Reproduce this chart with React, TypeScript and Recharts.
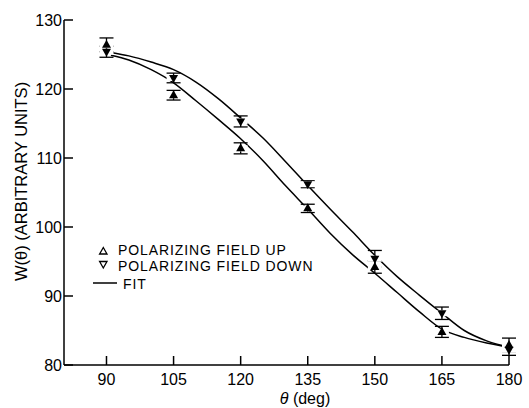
import React from 'react';
import { ComposedChart, Line, Scatter, XAxis, YAxis, ErrorBar } from 'recharts';

const angles = [90, 105, 120, 135, 150, 165, 180];
const upValues = [126.4, 119.1, 111.4, 102.7, 94.2, 84.8, 82.9];
const upErrors = [1.0, 0.7, 0.8, 0.6, 0.9, 0.8, 1.0];
const downValues = [125.4, 121.6, 115.3, 106.2, 95.4, 87.5, 82.2];
const downErrors = [0.8, 0.7, 0.8, 0.5, 1.2, 0.9, 0.8];

const fitAngles = [91, 95, 100, 105, 110, 115, 120, 125, 130, 135, 140, 145, 150, 155, 160, 165, 170, 175, 180];
const fitUpValues = [124.9, 124.2, 122.8, 120.9, 118.3, 115.6, 112.8, 109.6, 106.0, 102.6, 99.1, 96.0, 93.3, 90.5, 87.7, 85.2, 84.0, 83.2, 82.6];
const fitDownValues = [125.3, 124.8, 123.9, 122.8, 121.0, 118.6, 115.8, 112.9, 109.5, 106.0, 102.6, 99.3, 95.9, 92.8, 90.1, 87.5, 85.0, 83.5, 82.6];

const xTicks = [90, 105, 120, 135, 150, 165, 180];
const yTicks = [80, 90, 100, 110, 120, 130];

const legendLabels = ['POLARIZING FIELD UP', 'POLARIZING FIELD DOWN', 'FIT'];
const yLabel = 'W(θ) (ARBITRARY UNITS)';

const upData = angles.map((x, i) => ({ x, y: upValues[i], err: upErrors[i] }));
const downData = angles.map((x, i) => ({ x, y: downValues[i], err: downErrors[i] }));
const fitUpData = fitAngles.map((x, i) => ({ x, y: fitUpValues[i] }));
const fitDownData = fitAngles.map((x, i) => ({ x, y: fitDownValues[i] }));

const FONT = '"Liberation Sans", Arial, sans-serif';

const UpTri = (props: any) => {
  const { cx, cy } = props;
  return <path d={`M${cx},${cy - 5} L${cx + 4.5},${cy + 3} L${cx - 4.5},${cy + 3} Z`} fill="#000" />;
};
const DownTri = (props: any) => {
  const { cx, cy } = props;
  return <path d={`M${cx},${cy + 5} L${cx + 4.5},${cy - 3} L${cx - 4.5},${cy - 3} Z`} fill="#000" />;
};
const Halo = (props: any) => {
  const { cx, cy } = props;
  return <rect x={cx - 7} y={cy - 3} width={14} height={6} fill="#fff" />;
};

export default function App() {
  return (
    <div style={{ position: 'absolute', left: 0, top: 0, width: 529, height: 408, background: '#fff' }}>
      <ComposedChart width={529} height={408} margin={{ top: 20, right: 20, bottom: 0, left: 0 }}>
        <XAxis
          type="number"
          dataKey="x"
          domain={[80.5, 180]}
          ticks={xTicks}
          interval={0}
          height={43}
          tickSize={-9}
          tickMargin={18}
          axisLine={{ stroke: '#000', strokeWidth: 1.5 }}
          tickLine={{ stroke: '#000', strokeWidth: 1.5 }}
          tick={{ fill: '#000', fontSize: 16, fontFamily: FONT }}
        />
        <YAxis
          type="number"
          dataKey="y"
          domain={[80, 130]}
          ticks={yTicks}
          interval={0}
          width={64}
          tickSize={-9}
          tickMargin={11}
          axisLine={{ stroke: '#000', strokeWidth: 1.5 }}
          tickLine={{ stroke: '#000', strokeWidth: 1.5 }}
          tick={{ fill: '#000', fontSize: 16, fontFamily: FONT }}
        />
        <Line data={fitUpData} dataKey="y" type="monotone" stroke="#000" strokeWidth={1.5} dot={false} isAnimationActive={false} />
        <Line data={fitDownData} dataKey="y" type="monotone" stroke="#000" strokeWidth={1.5} dot={false} isAnimationActive={false} />
        <Scatter data={upData} dataKey="y" shape={Halo} isAnimationActive={false} />
        <Scatter data={downData} dataKey="y" shape={Halo} isAnimationActive={false} />
        <Scatter data={upData} dataKey="y" shape={UpTri} isAnimationActive={false}>
          <ErrorBar dataKey="err" direction="y" width={7} stroke="#000" strokeWidth={1.3} />
        </Scatter>
        <Scatter data={downData} dataKey="y" shape={DownTri} isAnimationActive={false}>
          <ErrorBar dataKey="err" direction="y" width={7} stroke="#000" strokeWidth={1.3} />
        </Scatter>
      </ComposedChart>
      <svg width={529} height={408} style={{ position: 'absolute', left: 0, top: 0, pointerEvents: 'none' }}>
        <text
          x={21}
          y={181.5}
          transform="rotate(-90 21 181.5)"
          textAnchor="middle"
          dominantBaseline="central"
          fontSize={16.5}
          fontFamily={FONT}
          fill="#000"
        >
          {yLabel}
        </text>
        <text x={305} y={404} textAnchor="middle" fontSize={16} fontFamily={FONT} fill="#000">
          <tspan fontStyle="italic">θ</tspan> (deg)
        </text>
        <path d="M103.3,247.5 L107,254 L99.6,254 Z" fill="none" stroke="#000" strokeWidth={1.3} />
        <path d="M103.3,268 L107,261.5 L99.6,261.5 Z" fill="none" stroke="#000" strokeWidth={1.3} />
        <line x1={93} x2={117} y1={283} y2={283} stroke="#000" strokeWidth={1.5} />
        <text x={118} y={255} fontSize={14} letterSpacing={0.9} fontFamily={FONT} fill="#000">{legendLabels[0]}</text>
        <text x={118} y={271} fontSize={14} letterSpacing={0.9} fontFamily={FONT} fill="#000">{legendLabels[1]}</text>
        <text x={123} y={288.5} fontSize={14} letterSpacing={0.9} fontFamily={FONT} fill="#000">{legendLabels[2]}</text>
      </svg>
    </div>
  );
}
